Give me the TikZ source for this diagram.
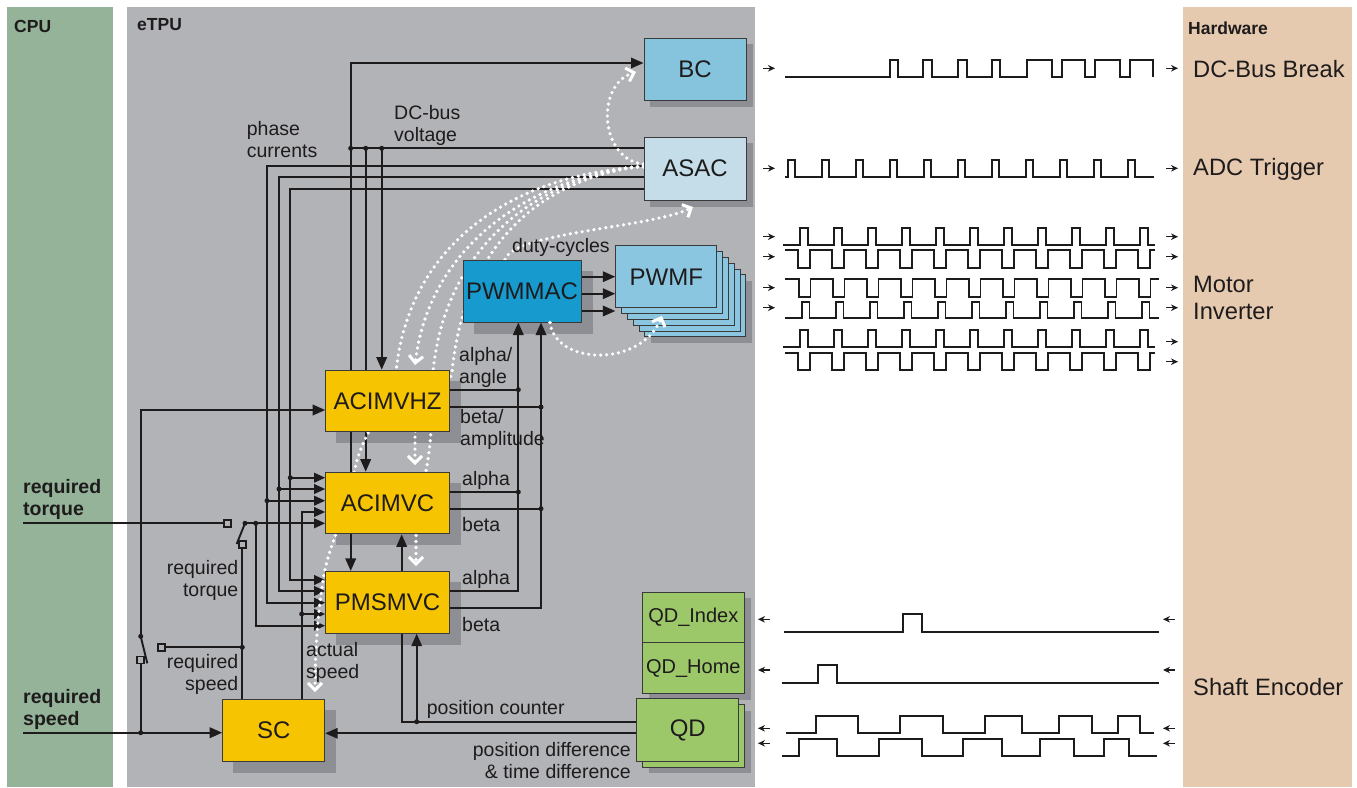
\documentclass[tikz,border=0pt]{standalone}
\usepackage{fontspec}
\setmainfont{Liberation Sans}
\usetikzlibrary{arrows.meta}
\definecolor{cpuc}{HTML}{94B398}
\definecolor{etpuc}{HTML}{B2B3B7}
\definecolor{hwc}{HTML}{E6CAB0}
\definecolor{shc}{HTML}{8E8F94}
\definecolor{ylw}{HTML}{F6C400}
\definecolor{bcc}{HTML}{86C4DD}
\definecolor{asacc}{HTML}{C4DDE8}
\definecolor{pwmc}{HTML}{179BCF}
\definecolor{pwmfc}{HTML}{8AC6DF}
\definecolor{grn}{HTML}{9DC86A}
\definecolor{ink}{HTML}{1E1B1C}
\definecolor{bord}{HTML}{3A3A3A}
\pgfdeclarelayer{back}
\pgfdeclarelayer{shad}
\pgfdeclarelayer{front}
\pgfdeclarelayer{top}
\pgfsetlayers{back,shad,main,front,top}
\begin{document}
\begin{tikzpicture}[x=1pt,y=-1pt,
  lbl/.style={font=\fontsize{19.5}{22}\selectfont, text=ink, inner sep=0pt},
  blbl/.style={font=\bfseries\fontsize{19.5}{22}\selectfont, text=ink, inner sep=0pt},
  hlbl/.style={font=\bfseries\fontsize{17.5}{20}\selectfont, text=ink, inner sep=0pt, anchor=west},
  rlbl/.style={font=\fontsize{23.7}{27}\selectfont, text=ink, inner sep=0pt, anchor=west},
  bx/.style={draw=bord, line width=1pt, inner sep=0pt, text=ink, font=\fontsize{24}{26}\selectfont},
  ybx/.style={bx, fill=ylw, minimum width=123.6pt, minimum height=61.7pt},
  ln/.style={draw=ink, line width=1.9pt},
  arr/.style={ln, -{Triangle[length=12.5pt,width=10.5pt]}},
  inarr/.style={ln, -{Triangle[length=11pt,width=9.5pt]}},
  jdot/.style={circle, fill=ink, inner sep=0pt, minimum size=5pt},
  sq/.style={draw=ink, line width=1.5pt, fill=etpuc, inner sep=0pt, minimum size=7pt},
  wd/.style={white, line width=3.6pt, line cap=round, dash pattern=on 0pt off 6pt},
  wda/.style={wd, -{Straight Barb[length=7pt,width=14pt,line width=3pt]}},
  wv/.style={draw=ink, line width=1.8pt},
  rarr/.style={draw=ink, line width=1.3pt, -{Stealth[length=7pt,width=6.5pt]}}
]
\useasboundingbox (0,0) rectangle (1357,787);
\begin{pgfonlayer}{back}
  \fill[white] (0,0) rectangle (1357,787);
  \fill[cpuc] (7,7) rectangle (113,787);
  \fill[etpuc] (127,7) rectangle (755,787);
  \fill[hwc] (1183,7) rectangle (1352,787);
\end{pgfonlayer}

% ---------- boxes ----------
\begin{pgfonlayer}{front}
  \node[bx, fill=bcc, minimum width=102pt, minimum height=62pt] (bc) at (695,69) {BC};
  \node[bx, fill=asacc, minimum width=102pt, minimum height=63pt] (asac) at (695,168.5) {ASAC};
  \node[bx, fill=pwmc, minimum width=118pt, minimum height=62pt] (pwmmac) at (522,291) {PWMMAC};
  \foreach \k in {5,4,3,2,1}
    \node[bx, fill=pwmfc, minimum width=101pt, minimum height=62pt] at ({666.3+5.8*\k},{276.8+5.8*\k}) {};
  \node[bx, fill=pwmfc, minimum width=101pt, minimum height=62pt] (pwmf) at (666.3,276.8) {PWMF};
  \node[ybx] (acimvhz) at (387.5,401) {ACIMVHZ};
  \node[ybx] (acimvc) at (387.5,503) {ACIMVC};
  \node[ybx] (pmsmvc) at (387.5,602.3) {PMSMVC};
  \node[bx, fill=ylw, minimum width=102pt, minimum height=62pt] (sc) at (273.7,730.3) {SC};
  \node[bx, fill=grn, minimum width=102pt, minimum height=50.7pt, font=\fontsize{20}{22}\selectfont] (qdi) at (693.3,617.35) {QD\_Index};
  \node[bx, fill=grn, minimum width=102pt, minimum height=51pt, font=\fontsize{20}{22}\selectfont] (qdh) at (693.3,668.2) {QD\_Home};
  \node[bx, fill=grn, minimum width=102.3pt, minimum height=62.7pt] at (693.5,736) {};
  \node[bx, fill=grn, minimum width=102.3pt, minimum height=62.7pt] (qd) at (687.8,730.3) {QD};
\end{pgfonlayer}

% ---------- shadows ----------
\begin{pgfonlayer}{shad}
  \foreach \n in {pwmmac,acimvhz,acimvc,pmsmvc,sc}
    \fill[shc] ([shift={(11,11)}]\n.south west) rectangle ([shift={(11,11)}]\n.north east);
  \foreach \n in {bc,asac}
    \fill[shc] ([shift={(6,6)}]\n.south west) rectangle ([shift={(6,6)}]\n.north east);
  \fill[shc] (651,281) rectangle (752,343);
  \fill[shc] (648.5,598) rectangle (750.5,699.5);
  \fill[shc] (649,711) rectangle (751,773);
\end{pgfonlayer}

% ---------- DC-bus voltage ----------
\coordinate (j1) at (350.7,148.3);
\coordinate (j2) at (365.7,148.3);
\coordinate (j3) at (381.7,148.3);
\draw[ln] (asac.west |- j1) -- (j1);
\draw[arr] (j1) |- (bc.west |- 0,63);
\draw[arr] (j1) -- (j1 |- pmsmvc.north);
\draw[arr] (j2) -- (j2 |- acimvc.north);
\draw[arr] (j3) -- (j3 |- acimvhz.north);
\foreach \c in {j1,j2,j3} \node[jdot] at (\c) {};

% ---------- phase currents ----------
\draw[inarr] (asac.west |- 0,166) -| (267,602.7) -- (pmsmvc.west |- 0,602.7);
\draw[inarr] (asac.west |- 0,177) -| (279,591) -- (pmsmvc.west |- 0,591);
\draw[inarr] (asac.west |- 0,188.7) -| (290.3,580) -- (pmsmvc.west |- 0,580);
\draw[inarr] (267,500.7) -- (acimvc.west |- 0,500.7);
\draw[inarr] (279,489) -- (acimvc.west |- 0,489);
\draw[inarr] (290.3,477.7) -- (acimvc.west |- 0,477.7);
\node[jdot] at (267,500.7) {};
\node[jdot] at (279,489) {};
\node[jdot] at (290.3,477.7) {};

% ---------- actual speed ----------
\draw[inarr] (sc.north -| 301.7,0) |- (acimvc.west |- 0,512);
\draw[inarr] (301.7,614) -- (pmsmvc.west |- 0,614);
\node[jdot] at (301.7,614) {};

% ---------- required torque / switches ----------
\node[sq] (s1) at (227.3,523.3) {};
\node[sq] (s2) at (242.3,544.3) {};
\node[sq] (s3) at (161.7,647.3) {};
\node[sq] (s4) at (140.7,660) {};
\coordinate (p1) at (245,523.3);
\coordinate (p2) at (140.7,636.3);
\coordinate (j4) at (255.7,523.3);
\coordinate (j5) at (242.3,647.3);
\coordinate (j6) at (140.7,732.7);
\draw[ln] (23,523.3) -- (s1.west);
\draw[ln] (p1) -- (236.7,544);
\draw[inarr] (p1) -- (acimvc.west |- p1);
\draw[inarr] (j4) |- (pmsmvc.west |- 0,625.7);
\draw[ln] (s2.south) -- (s2.south |- sc.north);
\draw[ln] (s3.east) -- (j5);
\draw[arr] (p2) |- (acimvhz.west |- 0,410);
\draw[ln] (p2) -- (147.3,663.3);
\draw[ln] (s4.south) -- (j6);
\draw[arr] (23,732.7) -- (sc.west |- j6);
\foreach \c in {p1,p2,j4,j5,j6} \node[jdot] at (\c) {};

% ---------- position counter / difference ----------
\coordinate (j7) at (416.7,721.7);
\draw[arr] (qd.west |- 0,721.7) -| (acimvc.south -| 401.7,0);
\draw[arr] (j7) -- (pmsmvc.south -| j7);
\node[jdot] at (j7) {};
\draw[arr] (qd.west |- 0,733.3) -- (sc.east |- 0,733.3);

% ---------- outputs to PWMMAC ----------
\draw[ln] (acimvhz.east |- 0,389.7) -- (518.3,389.7);
\draw[ln] (acimvhz.east |- 0,407) -- (541,407);
\draw[ln] (acimvc.east |- 0,492) -- (518.3,492);
\draw[ln] (acimvc.east |- 0,508.7) -- (541,508.7);
\draw[arr] (pmsmvc.east |- 0,591) -| (pwmmac.south -| 518.3,0);
\draw[arr] (pmsmvc.east |- 0,608.3) -| (pwmmac.south -| 541,0);
\foreach \p in {(518.3,389.7),(541,407),(518.3,492),(541,508.7)} \node[jdot] at \p {};
\foreach \y in {276.7,293.7,311} \draw[arr] (pwmmac.east |- 0,\y) -- (pwmf.west |- 0,\y);

% ---------- dotted links ----------
\draw[wda] (asac.west |- 0,164) .. controls (600,160) and (595,85) .. (636,72);
\draw[wda] (asac.west |- 0,166) .. controls (540,175) and (430,240) .. (415,365);
\draw[wda] (asac.west |- 0,167) .. controls (530,172) and (410,232) .. (396,372)
   .. controls (385,410) and (358,440) .. (354,475)
   .. controls (349,510) and (330,540) .. (324,575)
   .. controls (318,610) and (315,650) .. (315,692);
\draw[wda] (asac.west |- 0,166) .. controls (545,178) and (465,240) .. (452,372)
   .. controls (445,400) and (415,410) .. (415,435) -- (415,465);
\draw[wda] (asac.west |- 0,166) .. controls (540,176) and (445,245) .. (433,372)
   .. controls (432,420) and (431,450) .. (425,475)
   .. controls (418,500) and (416,520) .. (416,540) -- (416,566);
\draw[wda] (pwmmac.north -| 505,0) .. controls (515,232) and (650,228) .. (693,207);
\begin{pgfonlayer}{top}
\draw[wda] (pwmmac.south -| 550,0) .. controls (555,365) and (640,368) .. (662,316);
\end{pgfonlayer}

% ---------- waveforms ----------
\draw[wv] (785,76.7) -- (890,76.7) |- (898.3,60) |- (923.3,76.7) |- (931.7,60) |- (958.3,76.7) |- (966.7,60) |- (991.7,76.7) |- (1000,60) |- (1026.7,76.7) |- (1051.7,60) |- (1061.7,76.7) |- (1085,60) |- (1095,76.7) |- (1120,60) |- (1130,76.7) |- (1153.3,60) -- (1153.3,76.7);
\draw[wv] (785,176.7) \foreach \k in {0,...,10} { -- ({787.7+34*\k},176.7) -- ({787.7+34*\k},160) -- ({795.2+34*\k},160) -- ({795.2+34*\k},176.7) } -- (1154,176.7);
% pair 1
\draw[wv] (783,245) \foreach \k in {0,...,10} { -- ({800+34*\k},245) -- ({800+34*\k},228.3) -- ({808.3+34*\k},228.3) -- ({808.3+34*\k},245) } -- (1155,245);
\draw[wv] (785,250) \foreach \k in {0,...,10} { -- ({798+34*\k},250) -- ({798+34*\k},267.7) -- ({810+34*\k},267.7) -- ({810+34*\k},250) } -- (1155,250);
% pair 2
\draw[wv] (785,279.3) \foreach \k in {0,...,10} { -- ({799+34*\k},279.3) -- ({799+34*\k},296.7) -- ({810.5+34*\k},296.7) -- ({810.5+34*\k},279.3) } -- (1159,279.3);
\draw[wv] (785,318.3) \foreach \k in {0,...,10} { -- ({801.7+34*\k},318.3) -- ({801.7+34*\k},301.7) -- ({809.5+34*\k},301.7) -- ({809.5+34*\k},318.3) } -- (1159,318.3);
% pair 3
\draw[wv] (783,346.7) \foreach \k in {0,...,10} { -- ({800+34*\k},346.7) -- ({800+34*\k},330) -- ({808.3+34*\k},330) -- ({808.3+34*\k},346.7) } -- (1155,346.7);
\draw[wv] (785,352.7) \foreach \k in {0,...,10} { -- ({798+34*\k},352.7) -- ({798+34*\k},370) -- ({810+34*\k},370) -- ({810+34*\k},352.7) } -- (1155,352.7);
% shaft encoder
\draw[wv] (784.3,631.7) -| (903.3,614) -| (921.7,631.7) -- (1159,631.7);
\draw[wv] (781.7,682.7) -| (818.3,665.3) -| (837.3,682.7) -- (1159,682.7);
\draw[wv] (786,733.3) -| (815.7,716) -| (858.3,733.3) -| (900,716) -| (942.7,733.3) -| (985,716) -| (1021.7,733.3) -| (1059.3,716) -| (1091.7,733.3) -| (1118.3,716) -| (1140,733.3) -- (1154.3,733.3);
\draw[wv] (781.7,755.7) -| (799.3,739) -| (837.3,755.7) -| (879.3,739) -| (921.7,755.7) -| (963.3,739) -| (1002.3,755.7) -| (1040,739) -| (1074.3,755.7) -| (1104,739) -| (1129.3,755.7) -- (1157.3,755.7);

% small arrows
\foreach \y in {68.3,168.3,236.7,256.7,287.7,307.7}
  \draw[rarr] (763,\y) -- (775,\y);
\foreach \y in {68.3,168.3,236.7,256.7,287.7,307.7,341.7,361.7}
  \draw[rarr] (1166,\y) -- (1178,\y);
\foreach \y in {619.3,670,728.3,743.3} {
  \draw[rarr] (770,\y) -- (758,\y);
  \draw[rarr] (1175,\y) -- (1163,\y);
}

% ---------- labels ----------
\begin{pgfonlayer}{top}
  \node[hlbl] (tcpu) at (14,26) {CPU};
  \node[hlbl] (tetpu) at (137,25) {eTPU};
  \node[hlbl] (thw) at (1188,28) {Hardware};
  \node[lbl, anchor=west, align=left] (tphase) at (246.7,140) {phase\\currents};
  \node[lbl, anchor=west, align=left] (tdcbus) at (394,125.5) {DC-bus\\voltage};
  \node[lbl, anchor=west] (tduty) at (512,247) {duty-cycles};
  \node[lbl, anchor=west, align=left] (taa) at (459,367.5) {alpha/\\angle};
  \node[lbl, anchor=west, align=left] (tba) at (460,429.5) {beta/\\amplitude};
  \node[lbl, anchor=west] (ta1) at (462,480.5) {alpha};
  \node[lbl, anchor=west] (tb1) at (462,525) {beta};
  \node[lbl, anchor=west] (ta2) at (462,579.5) {alpha};
  \node[lbl, anchor=west] (tb2) at (462,625) {beta};
  \node[lbl, anchor=east, align=right] (trt) at (238.5,580) {required\\torque};
  \node[lbl, anchor=east, align=right] (trs) at (238.5,674) {required\\speed};
  \node[lbl, anchor=west, align=left] (tas) at (306,662) {actual\\speed};
  \node[lbl, anchor=west] (tpc) at (426.7,709.5) {position counter};
  \node[lbl, anchor=east, align=right] (tpd) at (631,761) {position difference\\\& time difference};
  \node[blbl, anchor=west, align=left] (treqt) at (23,499) {required\\torque};
  \node[blbl, anchor=west, align=left] (treqs) at (23,709) {required\\speed};
  \node[rlbl] (tdcb) at (1193,69) {DC-Bus Break};
  \node[rlbl] (tadc) at (1193,169) {ADC Trigger};
  \node[rlbl, align=left] (tmot) at (1193,297.5) {Motor\\Inverter};
  \node[rlbl] (tse) at (1193,687) {Shaft Encoder};
\end{pgfonlayer}
\end{tikzpicture}
\end{document}
